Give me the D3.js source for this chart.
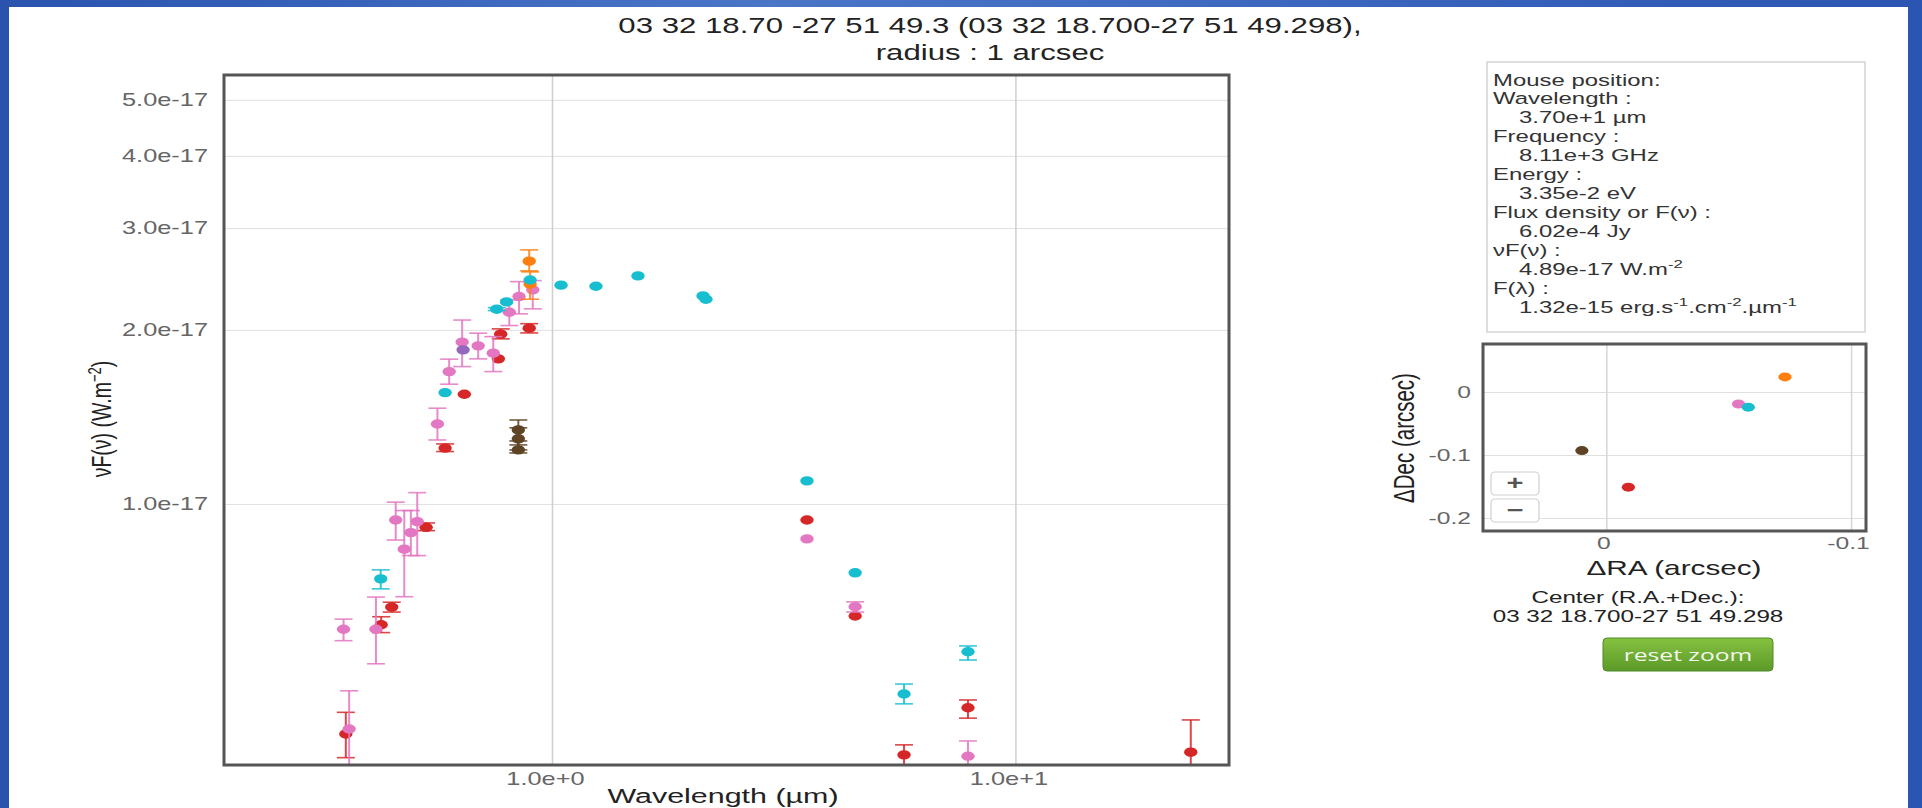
<!DOCTYPE html>
<html>
<head>
<meta charset="utf-8">
<script src="https://cdn.jsdelivr.net/npm/d3@7"></script>
<style>
  body { margin: 0; background: #ffffff; overflow: hidden; }
  svg { display: block; font-family: "Liberation Sans", Arial, sans-serif; }
</style>
</head>
<body>
<svg id="chart" width="1922" height="808"></svg>
<script>
// ---- data ----
var titleLines = ["03 32 18.70 -27 51 49.3 (03 32 18.700-27 51 49.298),", "radius : 1 arcsec"];

// each point: [wavelength (um), nuFnu (W/m2), err low, err high]
var redPoints = [
  [0.359, 4.00e-18, 3.64e-18, 4.36e-18],
  [0.428, 6.18e-18, 5.99e-18, 6.38e-18],
  [0.451, 6.63e-18, 6.50e-18, 6.76e-18],
  [0.535, 9.11e-18, 8.99e-18, 9.27e-18],
  [0.588, 1.249e-17, 1.232e-17, 1.27e-17],
  [0.647, 1.548e-17],
  [0.766, 1.782e-17],
  [0.775, 1.966e-17, 1.93e-17, 2.008e-17],
  [0.893, 2.014e-17, 1.976e-17, 2.05e-17],
  [3.55, 9.38e-18],
  [4.51, 6.40e-18],
  [5.75, 3.68e-18, 3.2e-18, 3.83e-18],
  [7.90, 4.44e-18, 4.26e-18, 4.58e-18],
  [23.9, 3.72e-18, 3.1e-18, 4.23e-18]
];
var pinkPoints = [
  [0.365, 4.08e-18, 3.2e-18, 4.75e-18],
  [0.355, 6.07e-18, 5.80e-18, 6.32e-18],
  [0.417, 6.07e-18, 5.29e-18, 6.90e-18],
  [0.460, 9.38e-18, 8.66e-18, 1.007e-17],
  [0.480, 8.35e-18, 6.91e-18, 9.74e-18],
  [0.496, 8.92e-18, 8.14e-18, 9.74e-18],
  [0.512, 9.32e-18, 8.14e-18, 1.046e-17],
  [0.566, 1.375e-17, 1.290e-17, 1.464e-17],
  [0.600, 1.694e-17, 1.611e-17, 1.780e-17],
  [0.640, 1.905e-17, 1.728e-17, 2.08e-17],
  [0.693, 1.877e-17, 1.782e-17, 1.974e-17],
  [0.747, 1.823e-17, 1.694e-17, 1.947e-17],
  [0.809, 2.146e-17, 2.035e-17, 2.254e-17],
  [0.849, 2.284e-17, 2.132e-17, 2.424e-17],
  [0.909, 2.346e-17, 2.175e-17, 2.434e-17],
  [3.55, 8.70e-18],
  [4.51, 6.64e-18, 6.50e-18, 6.77e-18],
  [7.90, 3.66e-18, 3.2e-18, 3.89e-18]
];
var orangePoints = [
  [0.893, 2.63e-17, 2.53e-17, 2.75e-17],
  [0.897, 2.40e-17, 2.26e-17, 2.52e-17]
];
var cyanPoints = [
  [0.427, 7.42e-18, 7.13e-18, 7.69e-18],
  [0.588, 1.558e-17],
  [0.760, 2.172e-17, 2.16e-17, 2.185e-17],
  [0.798, 2.236e-17],
  [0.897, 2.44e-17],
  [1.046, 2.39e-17],
  [1.244, 2.38e-17],
  [1.533, 2.48e-17],
  [2.118, 2.29e-17],
  [2.149, 2.26e-17],
  [3.55, 1.096e-17],
  [4.51, 7.60e-18],
  [5.75, 4.69e-18, 4.51e-18, 4.88e-18],
  [7.90, 5.55e-18, 5.37e-18, 5.68e-18]
];
var purplePoints = [[0.643, 1.847e-17]];
var brownPoints = [
  [0.846, 1.343e-17, 1.265e-17, 1.397e-17],
  [0.846, 1.296e-17, 1.240e-17, 1.354e-17],
  [0.846, 1.240e-17, 1.225e-17, 1.285e-17]
];

// position of each catalogue on the sky, offsets from centre in arcsec [dRA, dDec]
var skyOffsets = [
  {color: "#ff7f0e", pos: [-0.073, 0.024]},
  {color: "#e377c2", pos: [-0.054, -0.019]},
  {color: "#17becf", pos: [-0.058, -0.024]},
  {color: "#5e4424", pos: [0.010, -0.093]},
  {color: "#d62728", pos: [-0.009, -0.151]}
];

var yTicks = [1e-17, 2e-17, 3e-17, 4e-17, 5e-17];
var xTicks = [1, 10];
var skyXTicks = [0, -0.1];
var skyYTicks = [0, -0.1, -0.2];

var infoLines = [
  ["Mouse position:", 0],
  ["Wavelength :", 0],
  ["3.70e+1 µm", 1],
  ["Frequency :", 0],
  ["8.11e+3 GHz", 1],
  ["Energy :", 0],
  ["3.35e-2 eV", 1],
  ["Flux density or F(ν) :", 0],
  ["6.02e-4 Jy", 1],
  ["νF(ν) :", 0],
  ["4.89e-17 W.m^-2", 1],
  ["F(λ) :", 0],
  ["1.32e-15 erg.s^-1.cm^-2.µm^-1", 1]
];
var centerLines = ["Center (R.A.+Dec.):", "03 32 18.700-27 51 49.298"];

// ---- drawing ----
var SX = 1.45; // the whole page is seen stretched sideways
var svg = d3.select("#chart");

// blue desktop edge
var defs = svg.append("defs");
var grad = defs.append("linearGradient").attr("id", "blueGrad");
grad.append("stop").attr("offset", "0%").attr("stop-color", "#2a53ae");
grad.append("stop").attr("offset", "40%").attr("stop-color", "#4a76c8");
grad.append("stop").attr("offset", "100%").attr("stop-color", "#2b55b2");
svg.append("rect").attr("width", 1922).attr("height", 808).attr("fill", "url(#blueGrad)");
svg.append("rect").attr("x", 9).attr("y", 7).attr("width", 1899).attr("height", 801).attr("fill", "#fff");

function stext(parent, x, y, str, size, anchor, fill) {
  return parent.append("text")
    .attr("transform", "translate(" + x + "," + y + ") scale(" + SX + ",1)")
    .attr("text-anchor", anchor)
    .style("font-size", size + "px")
    .attr("fill", fill)
    .text(str);
}

// text with ^sup parts
function supText(parent, x, y, str, size, anchor, fill) {
  var t = parent.append("text")
    .attr("transform", "translate(" + x + "," + y + ") scale(" + SX + ",1)")
    .attr("text-anchor", anchor)
    .style("font-size", size + "px")
    .attr("fill", fill);
  var parts = str.split(/(\^-?\d)/);
  var raised = false;
  parts.forEach(function (p) {
    if (!p) return;
    if (p[0] === "^") {
      t.append("tspan").attr("dy", -size * 0.4).style("font-size", (size * 0.7) + "px").text(p.slice(1));
      raised = true;
    } else {
      var ts = t.append("tspan").text(p);
      if (raised) { ts.attr("dy", size * 0.4); raised = false; }
    }
  });
  return t;
}

// title
stext(svg, 990, 33, titleLines[0], 21.5, "middle", "#222");
stext(svg, 990, 60, titleLines[1], 21.5, "middle", "#222");

// main SED plot
var pLeft = 224, pTop = 75, pRight = 1229, pBottom = 765;
var x = d3.scaleLog().domain([0.196, 28.9]).range([pLeft, pRight]);
var y = d3.scaleLog().domain([3.535e-18, 5.52e-17]).range([pBottom, pTop]);

var yAxis = svg.append("g").attr("transform", "translate(" + pLeft + ",0)")
  .call(d3.axisLeft(y).tickValues(yTicks).tickFormat(d3.format(".1e")).tickSize(-(pRight - pLeft)).tickPadding(16));
yAxis.select(".domain").remove();
yAxis.selectAll("line").attr("stroke", "#e0e0e0");
yAxis.selectAll("text").attr("x", -16 / SX).attr("transform", "scale(" + SX + ",1)")
  .style("font-size", "17.5px").style("font-family", "Liberation Sans").attr("fill", "#666");

var xAxis = svg.append("g").attr("transform", "translate(0," + pBottom + ")")
  .call(d3.axisBottom(x).tickValues(xTicks).tickFormat(d3.format(".1e")).tickSize(-(pBottom - pTop)));
xAxis.select(".domain").remove();
xAxis.selectAll("line").attr("stroke", "#cfcfcf").attr("stroke-width", 1.5);
xAxis.selectAll("text").attr("x", -7 / SX).attr("y", 20).attr("dy", 0).attr("transform", "scale(" + SX + ",1)")
  .style("font-size", "17.5px").style("font-family", "Liberation Sans").attr("fill", "#666");

defs.append("clipPath").attr("id", "plotClip").append("rect")
  .attr("x", pLeft).attr("y", pTop).attr("width", pRight - pLeft).attr("height", pBottom - pTop);
var plot = svg.append("g").attr("clip-path", "url(#plotClip)");

function drawSeries(points, color) {
  var g = plot.append("g");
  var withErr = points.filter(function (d) { return d[2] != null; });
  g.selectAll(".eb").data(withErr).enter().append("line")
    .attr("x1", function (d) { return x(d[0]); }).attr("x2", function (d) { return x(d[0]); })
    .attr("y1", function (d) { return y(d[2]); }).attr("y2", function (d) { return y(d[3]); })
    .attr("stroke", color).attr("stroke-width", 2).attr("opacity", 0.85);
  [2, 3].forEach(function (k) {
    g.selectAll(".cap" + k).data(withErr).enter().append("line")
      .attr("x1", function (d) { return x(d[0]) - 9; }).attr("x2", function (d) { return x(d[0]) + 9; })
      .attr("y1", function (d) { return y(d[k]); }).attr("y2", function (d) { return y(d[k]); })
      .attr("stroke", color).attr("stroke-width", 1.6).attr("opacity", 0.85);
  });
  g.selectAll(".pt").data(points).enter().append("ellipse")
    .attr("cx", function (d) { return x(d[0]); })
    .attr("cy", function (d) { return y(d[1]); })
    .attr("rx", 6.7).attr("ry", 4.7)
    .attr("fill", color);
}
drawSeries(redPoints, "#d62728");
drawSeries(pinkPoints, "#e377c2");
drawSeries(orangePoints, "#ff7f0e");
drawSeries(cyanPoints, "#17becf");
drawSeries(purplePoints, "#9467bd");
drawSeries(brownPoints, "#5e4424");

svg.append("rect").attr("x", pLeft).attr("y", pTop).attr("width", pRight - pLeft).attr("height", pBottom - pTop)
  .attr("fill", "none").attr("stroke", "#555").attr("stroke-width", 3);

// axis titles
supText(svg, 723, 803, "Wavelength (µm)", 21, "middle", "#222");
svg.append("text")
  .attr("transform", "translate(111,419) scale(" + SX + ",1) rotate(-90)")
  .attr("text-anchor", "middle").style("font-size", "19.5px").attr("fill", "#222")
  .call(function (t) {
    t.append("tspan").text("νF(ν) (W.m");
    t.append("tspan").attr("dy", -7).style("font-size", "13px").text("−2");
    t.append("tspan").attr("dy", 7).text(")");
  });

// mouse position box
svg.append("rect").attr("x", 1487).attr("y", 62).attr("width", 378).attr("height", 270)
  .attr("fill", "#fff").attr("stroke", "#d4d4d4").attr("stroke-width", 1.5);
infoLines.forEach(function (l, i) {
  supText(svg, l[1] ? 1519 : 1493, 85.5 + i * 18.95, l[0], 16.5, "start", "#333");
});

// sky position plot
var sLeft = 1483, sTop = 344, sRight = 1866, sBottom = 531;
var sx = d3.scaleLinear().domain([0.0504, -0.1061]).range([sLeft, sRight]);
var sy = d3.scaleLinear().domain([0.0762, -0.2206]).range([sTop, sBottom]);
var fmt = function (d) { return d === 0 ? "0" : String(d); };

var syAxis = svg.append("g").attr("transform", "translate(" + sLeft + ",0)")
  .call(d3.axisLeft(sy).tickValues(skyYTicks).tickFormat(fmt).tickSize(-(sRight - sLeft)));
syAxis.select(".domain").remove();
syAxis.selectAll("line").attr("stroke", "#e0e0e0");
syAxis.selectAll("text").attr("x", -12 / SX).attr("transform", "scale(" + SX + ",1)")
  .style("font-size", "17px").style("font-family", "Liberation Sans").attr("fill", "#666");

var sxAxis = svg.append("g").attr("transform", "translate(0," + sBottom + ")")
  .call(d3.axisBottom(sx).tickValues(skyXTicks).tickFormat(fmt).tickSize(-(sBottom - sTop)));
sxAxis.select(".domain").remove();
sxAxis.selectAll("line").attr("stroke", "#d6d6d6").attr("stroke-width", 1.5);
sxAxis.selectAll("text").attr("x", -3 / SX).attr("y", 18).attr("dy", 0).attr("transform", "scale(" + SX + ",1)")
  .style("font-size", "17px").style("font-family", "Liberation Sans").attr("fill", "#666");

svg.append("g").selectAll("ellipse").data(skyOffsets).enter().append("ellipse")
  .attr("cx", function (d) { return sx(d.pos[0]); })
  .attr("cy", function (d) { return sy(d.pos[1]); })
  .attr("rx", 6.6).attr("ry", 4.5)
  .attr("fill", function (d) { return d.color; });

// zoom buttons
[["+", 472], ["−", 499]].forEach(function (b) {
  svg.append("rect").attr("x", 1491).attr("y", b[1]).attr("width", 48).attr("height", 23).attr("rx", 4)
    .attr("fill", "#fff").attr("stroke", "#cfcfcf").attr("stroke-width", 1.2);
  stext(svg, 1515, b[1] + 18, b[0], 20, "middle", "#555").style("font-weight", "bold");
});

svg.append("rect").attr("x", sLeft).attr("y", sTop).attr("width", sRight - sLeft).attr("height", sBottom - sTop)
  .attr("fill", "none").attr("stroke", "#555").attr("stroke-width", 3);

stext(svg, 1674, 575, "ΔRA (arcsec)", 20.5, "middle", "#222");
svg.append("text")
  .attr("transform", "translate(1414,438) scale(" + SX + ",1) rotate(-90)")
  .attr("text-anchor", "middle").style("font-size", "20.5px").attr("fill", "#222")
  .text("ΔDec (arcsec)");

stext(svg, 1638, 603, centerLines[0], 16.7, "middle", "#222");
stext(svg, 1638, 622, centerLines[1], 16.7, "middle", "#222");

// reset zoom button
var bg = defs.append("linearGradient").attr("id", "greenGrad").attr("x1", 0).attr("x2", 0).attr("y1", 0).attr("y2", 1);
bg.append("stop").attr("offset", "0%").attr("stop-color", "#86c140");
bg.append("stop").attr("offset", "100%").attr("stop-color", "#5c9a29");
svg.append("rect").attr("x", 1603).attr("y", 638).attr("width", 170).attr("height", 33).attr("rx", 4)
  .attr("fill", "url(#greenGrad)").attr("stroke", "#4f8a26").attr("stroke-width", 1);
stext(svg, 1688, 661, "reset zoom", 17, "middle", "#f3f7ee").style("font-family", "'Open Sans', sans-serif");
</script>
</body>
</html>
